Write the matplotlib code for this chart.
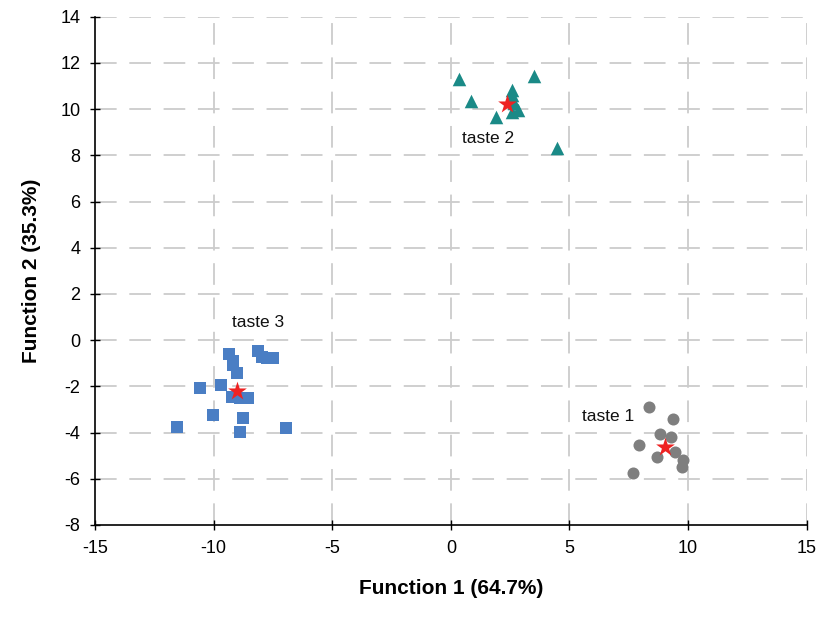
import matplotlib
matplotlib.use("Agg")
import matplotlib.pyplot as plt

plt.rcParams['font.family'] = ['Liberation Sans', 'DejaVu Sans']

# taste 1 (gray circles)
t1_x = [8.36, 9.37, 8.81, 9.30, 7.94, 9.44, 8.67, 9.77, 9.74, 7.68]
t1_y = [-2.89, -3.43, -4.04, -4.18, -4.55, -4.83, -5.05, -5.19, -5.51, -5.74]
# taste 2 (teal triangles)
t2_x = [0.34, 3.50, 0.83, 2.56, 2.56, 2.66, 2.84, 2.56, 1.90, 4.46]
t2_y = [11.29, 11.43, 10.36, 10.82, 10.60, 10.25, 9.96, 9.88, 9.67, 8.30]
# taste 3 (blue squares)
t3_x = [-9.34, -9.20, -9.17, -9.00, -8.14, -7.98, -7.77, -7.49, -10.58, -9.69,
        -9.24, -8.89, -8.54, -10.04, -8.78, -11.56, -8.89, -6.95]
t3_y = [-0.61, -0.90, -1.08, -1.41, -0.46, -0.72, -0.75, -0.79, -2.05, -1.92,
        -2.45, -2.52, -2.52, -3.25, -3.39, -3.75, -3.97, -3.82]
# centroids
cent_x = [9.02, 2.35, -9.00]
cent_y = [-4.62, 10.22, -2.20]
labels = ["taste 1", "taste 2", "taste 3"]
label_x = [6.62, 1.56, -8.13]
label_y = [-3.29, 8.74, 0.78]

xticks = [-15, -10, -5, 0, 5, 10, 15]
yticks = [-8, -6, -4, -2, 0, 2, 4, 6, 8, 10, 12, 14]

fig = plt.figure(figsize=(8.19, 6.21), dpi=100)
ax = fig.add_axes([0.116, 0.1546, 0.869, 0.8184])

for v in xticks[1:]:
    ax.axvline(v, color='#cccccc', lw=1.3, dashes=(12, 7), zorder=0)
for v in yticks[1:]:
    ax.axhline(v, color='#cccccc', lw=1.3, dashes=(12, 7), zorder=0)

ax.scatter(t1_x, t1_y, marker='o', s=75, color='#7f7f7f', zorder=3, linewidths=0)
ax.scatter(t2_x, t2_y, marker='^', s=95, color='#1a8a87', zorder=3, linewidths=0)
ax.scatter(t3_x, t3_y, marker='s', s=85, color='#4a7ec4', zorder=3, linewidths=0)
ax.scatter(cent_x, cent_y, marker='*', s=200, color='#ee2222', zorder=4, linewidths=0)

for lx, ly, lt in zip(label_x, label_y, labels):
    ax.text(lx, ly, lt, fontsize=12.5, ha='center', va='center', color='#111111')

ax.set_xlim(-15, 15)
ax.set_ylim(-8, 14)
ax.set_xticks(xticks)
ax.set_yticks(yticks)
ax.set_xticklabels([str(t) for t in xticks])
ax.set_yticklabels([str(t) for t in yticks])
ax.tick_params(direction='inout', length=7, width=1, labelsize=13, pad=7)
for s in ['top', 'right']:
    ax.spines[s].set_visible(False)
for s in ['left', 'bottom']:
    ax.spines[s].set_linewidth(1.2)

ax.set_xlabel('Function 1 (64.7%)', fontsize=15, fontweight='bold', labelpad=16)
ax.set_ylabel('Function 2 (35.3%)', fontsize=15, fontweight='bold', labelpad=14)

fig.savefig('out.png', dpi=100)
